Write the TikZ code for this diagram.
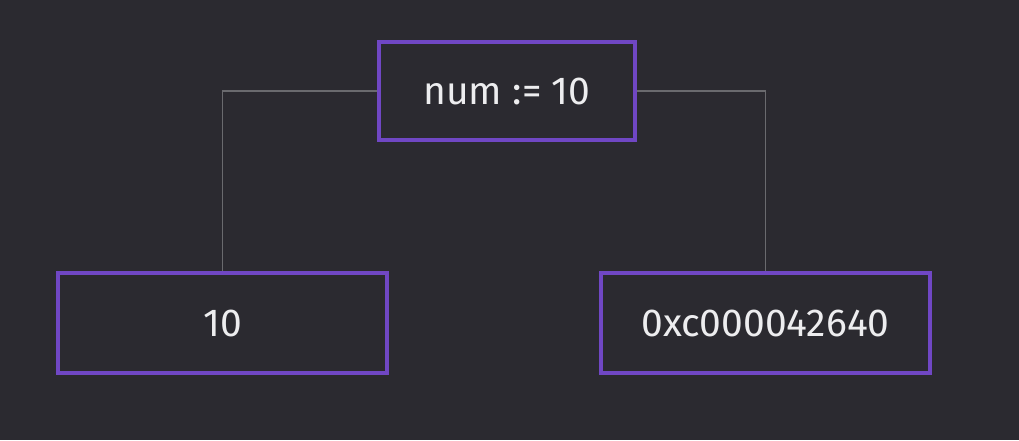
\documentclass[tikz,border=0pt]{standalone}
\usepackage{fontspec}
\setmainfont{Fira Sans}
\definecolor{bgdark}{HTML}{2B2A30}
\definecolor{boxpurple}{HTML}{7047C4}
\definecolor{wiregray}{HTML}{6A6A6E}
\definecolor{textwhite}{HTML}{EDEDEF}
\tikzset{
  membox/.style={draw=boxpurple, line width=4pt, fill=bgdark, text=textwhite,
    inner sep=0pt, font=\fontsize{39}{44}\selectfont},
  wire/.style={draw=wiregray, line width=1.8pt}
}
\begin{document}
\begin{tikzpicture}[x=1pt,y=-1pt]
            \fill [bgdark] (0,0) rectangle (1019,440);
            \node [membox, minimum width=256pt, minimum height=98pt] (decl) at (507,91) {num := 10};
            \node [membox, minimum width=329pt, minimum height=100pt] (val) at (222.5,323) {10};
            \node [membox, minimum width=329pt, minimum height=100pt] (addr) at (765.5,323) {0xc000042640};
            \draw [wire] (decl.west) -| (val.north);
            \draw [wire] (decl.east) -| (addr.north);
            \end{tikzpicture}
\end{document}
